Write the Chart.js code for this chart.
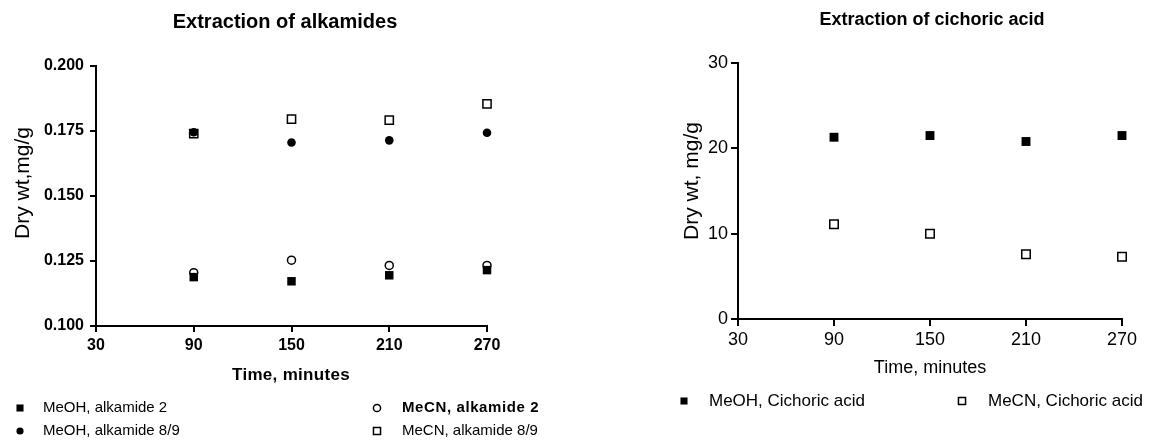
<!DOCTYPE html>
<html>
<head>
<meta charset="utf-8">
<script src="https://cdn.jsdelivr.net/npm/chart.js@4/dist/chart.umd.min.js"></script>
<style>
  html, body { margin: 0; padding: 0; background: #fff; }
  #wrap { position: relative; width: 1151px; height: 440px; overflow: hidden; }
  canvas { position: absolute; top: 0; }
  #alkamides { left: 0; }
  #cichoric { left: 580px; }
</style>
</head>
<body>
<div id="wrap">
  <canvas id="alkamides" width="580" height="440"></canvas>
  <canvas id="cichoric" width="571" height="440"></canvas>
</div>
<script>
// extraction time (minutes)
const times = [90, 150, 210, 270];

// alkamides, mg/g dry wt
const meohAlkamide2 = [0.1188, 0.1172, 0.1195, 0.1215];
const meohAlkamide89 = [0.1745, 0.1706, 0.1714, 0.1743];
const mecnAlkamide2 = [0.1205, 0.1253, 0.1233, 0.1233];
const mecnAlkamide89 = [0.1740, 0.1796, 0.1792, 0.1854];

// cichoric acid, mg/g dry wt
const meohCichoric = [21.3, 21.5, 20.8, 21.5];
const mecnCichoric = [11.1, 10.0, 7.6, 7.3];

// axis ticks
const timeTicks = [30, 90, 150, 210, 270];
const alkamideTicks = [0.100, 0.125, 0.150, 0.175, 0.200];
const cichoricTicks = [0, 10, 20, 30];

const FONT = "'Liberation Sans', Arial, sans-serif";

function points(ys) {
  return times.map((t, i) => ({ x: t, y: ys[i] }));
}

function series(label, ys, style, filled, radius) {
  return {
    label: label,
    data: points(ys),
    pointStyle: style,
    pointRadius: radius,
    pointHoverRadius: radius,
    pointBackgroundColor: filled ? "#000" : "#fff",
    pointBorderColor: "#000",
    pointBorderWidth: filled ? 0 : 1.5,
    showLine: false,
    clip: false
  };
}

// black axis with outward tick marks only
function axis(min, max, tickValues, tickFont, tickPad, tickLen, fit, fmt) {
  return {
    type: "linear",
    min: min,
    max: max,
    afterBuildTicks: s => { s.ticks = tickValues.map(v => ({ value: v })); },
    afterFit: fit,
    border: { display: true, color: "#000", width: 2 },
    grid: {
      display: true,
      drawOnChartArea: false,
      drawTicks: true,
      tickLength: tickLen,
      color: "#000",
      lineWidth: 2
    },
    ticks: {
      color: "#000", font: tickFont, padding: tickPad, autoSkip: false, maxRotation: 0,
      callback: fmt || (v => v)
    }
  };
}

// titles, axis titles and a fixed-position legend built from the datasets
const textPlugin = {
  id: "texts",
  afterDraw(chart, args, opts) {
    const ctx = chart.ctx;
    ctx.save();
    ctx.fillStyle = "#000";
    ctx.textBaseline = "middle";
    (opts.texts || []).forEach(t => {
      ctx.save();
      ctx.font = t.font;
      ctx.letterSpacing = t.spacing || "0px";
      ctx.textAlign = "center";
      ctx.translate(t.x, t.y);
      if (t.rotate) ctx.rotate(-Math.PI / 2);
      ctx.fillText(t.text, 0, 0);
      ctx.restore();
    });
    (opts.legend || []).forEach(item => {
      const ds = chart.data.datasets[item.index];
      ctx.save();
      ctx.fillStyle = ds.pointBackgroundColor;
      ctx.strokeStyle = "#000";
      ctx.lineWidth = ds.pointBorderWidth || 1;
      ctx.beginPath();
      if (ds.pointStyle === "circle") {
        ctx.arc(item.mx, item.y, item.radius, 0, Math.PI * 2);
      } else {
        const h = item.radius * Math.SQRT1_2;
        ctx.rect(item.mx - h, item.y - h, 2 * h, 2 * h);
      }
      ctx.fill();
      if (ds.pointBorderWidth) ctx.stroke();
      ctx.restore();
      ctx.save();
      ctx.fillStyle = "#000";
      ctx.font = item.font;
      ctx.letterSpacing = item.spacing || "0px";
      ctx.textAlign = "left";
      ctx.fillText(ds.label, item.tx, item.y);
      ctx.restore();
    });
    ctx.restore();
  }
};

// left panel: alkamides
new Chart(document.getElementById("alkamides"), {
  type: "scatter",
  data: {
    datasets: [
      series("MeOH, alkamide 2", meohAlkamide2, "rect", true, 6),
      series("MeOH, alkamide 8/9", meohAlkamide89, "circle", true, 4.3),
      series("MeCN, alkamide 2", mecnAlkamide2, "circle", false, 4),
      series("MeCN, alkamide 8/9", mecnAlkamide89, "rect", false, 5.8)
    ]
  },
  options: {
    responsive: false,
    animation: false,
    layout: { padding: { top: 66, right: 93, left: 0, bottom: 0 } },
    plugins: {
      legend: { display: false },
      tooltip: { enabled: false },
      texts: {
        texts: [
          { text: "Extraction of alkamides", font: "bold 20px " + FONT, x: 285, y: 22 },
          { text: "Time, minutes", font: "bold 17px " + FONT, x: 291, y: 375, spacing: "0.3px" },
          { text: "Dry wt,mg/g", font: "21px " + FONT, x: 23, y: 183, rotate: true }
        ],
        legend: [
          { index: 0, mx: 20, tx: 43, y: 408, radius: 5, font: "15px " + FONT },
          { index: 1, mx: 20, tx: 43, y: 431, radius: 3.6, font: "15px " + FONT },
          { index: 2, mx: 377, tx: 402, y: 408, radius: 3.6, font: "bold 15px " + FONT, spacing: "0.6px" },
          { index: 3, mx: 377, tx: 402, y: 431, radius: 5, font: "15px " + FONT }
        ]
      }
    },
    scales: {
      x: axis(30, 270, timeTicks, { family: FONT, size: 16, weight: "bold" }, 4, 6,
        s => { s.height = 114; }),
      y: axis(0.1, 0.2, alkamideTicks, { family: FONT, size: 16, weight: "bold" }, 6, 6,
        s => { s.width = 96; }, v => Number(v).toFixed(3))
    }
  },
  plugins: [textPlugin]
});

// right panel: cichoric acid
new Chart(document.getElementById("cichoric"), {
  type: "scatter",
  data: {
    datasets: [
      series("MeOH, Cichoric acid", meohCichoric, "rect", true, 6.3),
      series("MeCN, Cichoric acid", mecnCichoric, "rect", false, 6)
    ]
  },
  options: {
    responsive: false,
    animation: false,
    layout: { padding: { top: 63, right: 29, left: 0, bottom: 0 } },
    plugins: {
      legend: { display: false },
      tooltip: { enabled: false },
      texts: {
        texts: [
          { text: "Extraction of cichoric acid", font: "bold 18px " + FONT, x: 352, y: 20 },
          { text: "Time, minutes", font: "18px " + FONT, x: 350, y: 368 },
          { text: "Dry wt, mg/g", font: "21px " + FONT, x: 112, y: 181, rotate: true }
        ],
        legend: [
          { index: 0, mx: 104, tx: 129, y: 401, radius: 5, font: "17px " + FONT },
          { index: 1, mx: 382, tx: 408, y: 401, radius: 5, font: "17px " + FONT }
        ]
      }
    },
    scales: {
      x: axis(30, 270, timeTicks, { family: FONT, size: 18 }, 3, 7,
        s => { s.height = 121; }),
      y: axis(0, 30, cichoricTicks, { family: FONT, size: 18 }, 3, 7,
        s => { s.width = 158; })
    }
  },
  plugins: [textPlugin]
});
</script>
</body>
</html>
